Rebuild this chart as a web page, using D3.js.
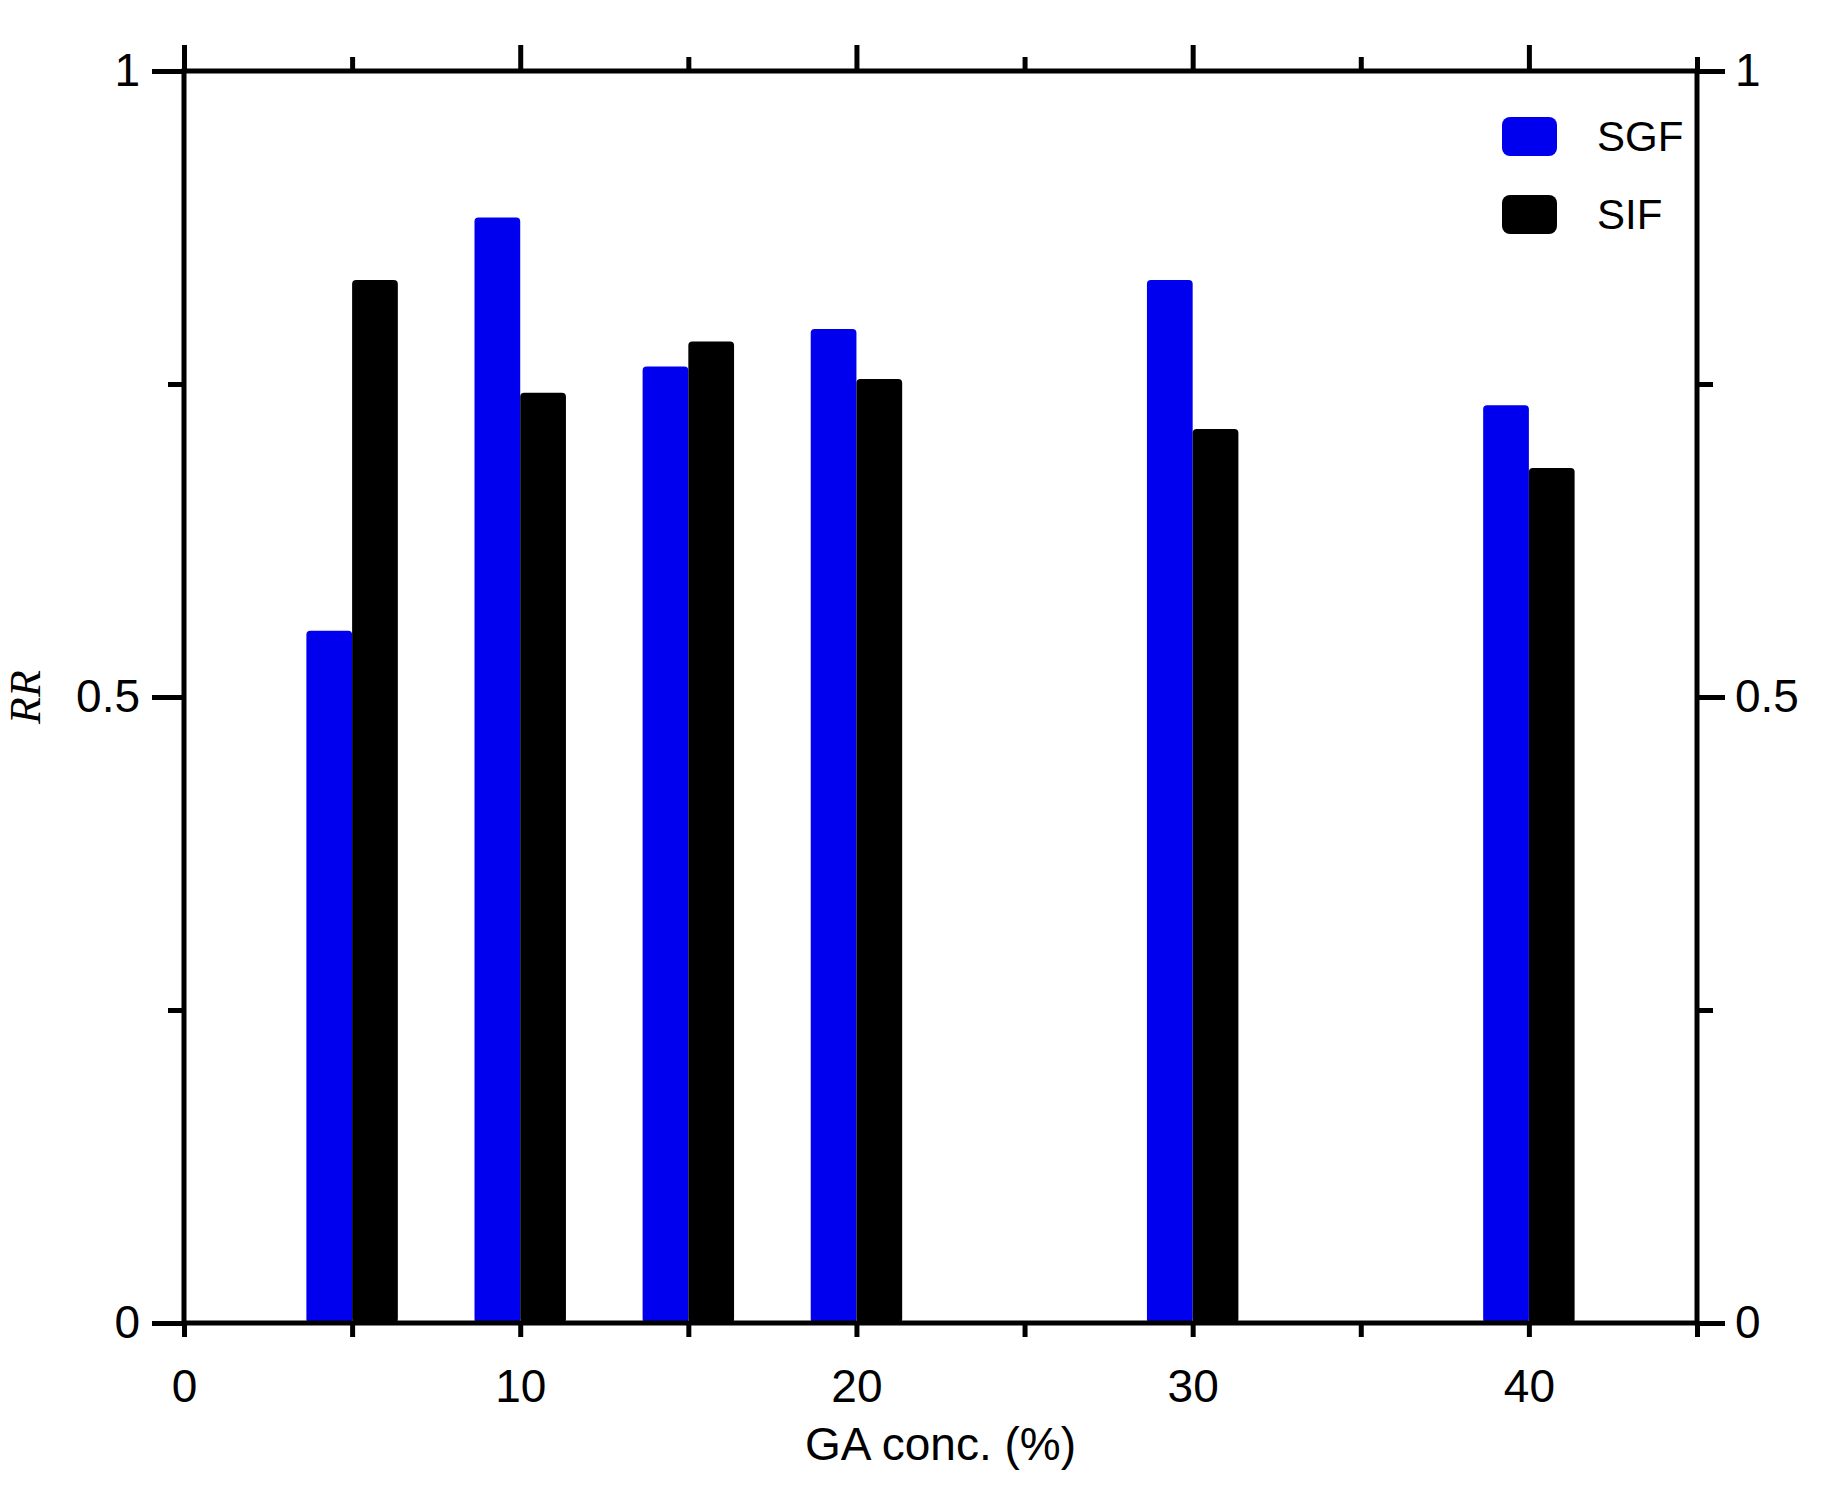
<!DOCTYPE html>
<html><head><meta charset="utf-8">
<script src="https://cdn.jsdelivr.net/npm/d3@7"></script>
<style>body{margin:0;background:#fff}text{font-family:"Liberation Sans",Arial,sans-serif}</style>
</head><body><svg id="c" width="1831" height="1494"></svg>
<script>
const conc = [5, 10, 15, 20, 30, 40];
const sgf = [0.553, 0.883, 0.764, 0.794, 0.833, 0.733];
const sif = [0.833, 0.743, 0.784, 0.754, 0.714, 0.683];
const xTicks = [0, 10, 20, 30, 40];
const yTicks = [0, 0.5, 1];
const series = [{name: "SGF", vals: sgf, color: "#0000ee", side: -1}, {name: "SIF", vals: sif, color: "#000", side: 0}];

const svg = d3.select("#c");
const L = 184, R = 1697, T = 71, B = 1323;
const x = d3.scaleLinear().domain([0, 45]).range([L, R]);
const y = d3.scaleLinear().domain([0, 1]).range([B, T]);
const bw = x(1.36) - x(0);

series.forEach(s => {
  svg.append("g").selectAll("rect").data(s.vals).join("rect")
    .attr("x", (d, i) => x(conc[i]) + s.side * bw).attr("y", d => y(d))
    .attr("width", bw).attr("height", d => y(0) - y(d))
    .attr("rx", 4).attr("fill", s.color);
});

const lw = 5;
svg.append("rect").attr("x", L).attr("y", T).attr("width", R - L).attr("height", B - T)
  .attr("fill", "none").attr("stroke", "#000").attr("stroke-width", lw);

function ax(g, axis) { g.call(axis); g.select(".domain").remove(); g.selectAll("line").attr("stroke-width", lw); return g; }
const big = 46;
// x axes
ax(svg.append("g").attr("transform", `translate(0,${B})`),
  d3.axisBottom(x).tickValues(d3.range(0, 46, 5)).tickSize(14).tickFormat(d => xTicks.includes(d) ? d : ""))
  .selectAll("text").attr("font-size", big).attr("dy", "1.35em");
ax(svg.append("g").attr("transform", `translate(0,${T})`),
  d3.axisTop(x).tickValues(d3.range(0, 46, 5)).tickSize(14).tickFormat(""))
  .selectAll("line").attr("y2", d => d % 10 === 0 ? -26 : -14);
// y axes
ax(svg.append("g").attr("transform", `translate(${L},0)`),
  d3.axisLeft(y).tickValues([0, 0.25, 0.5, 0.75, 1]).tickSize(16).tickFormat(d => yTicks.includes(d) ? d : ""))
  .call(g => g.selectAll("line").attr("x2", d => yTicks.includes(d) ? -32 : -16))
  .selectAll("text").attr("font-size", big).attr("x", -44);
ax(svg.append("g").attr("transform", `translate(${R},0)`),
  d3.axisRight(y).tickValues([0, 0.25, 0.5, 0.75, 1]).tickSize(16).tickFormat(d => yTicks.includes(d) ? d : ""))
  .call(g => g.selectAll("line").attr("x2", d => yTicks.includes(d) ? 28 : 16))
  .selectAll("text").attr("font-size", big).attr("x", 38);
svg.selectAll(".tick text").attr("fill", "#000");

svg.append("text").attr("x", (L + R) / 2).attr("y", 1460).attr("text-anchor", "middle")
  .attr("font-size", 46).text("GA conc. (%)");
svg.append("text").attr("transform", `translate(40,${y(0.5)}) rotate(-90)`).attr("text-anchor", "middle")
  .style("font-family", "Liberation Serif,serif").attr("font-style", "italic").attr("font-size", 44).text("RR");

// legend
series.forEach((s, i) => {
  const ly = 117 + i * 78;
  svg.append("rect").attr("x", 1502).attr("y", ly).attr("width", 55).attr("height", 39).attr("rx", 8).attr("fill", s.color);
  svg.append("text").attr("x", 1597).attr("y", ly + 34).attr("font-size", 42).text(s.name);
});
</script></body></html>
